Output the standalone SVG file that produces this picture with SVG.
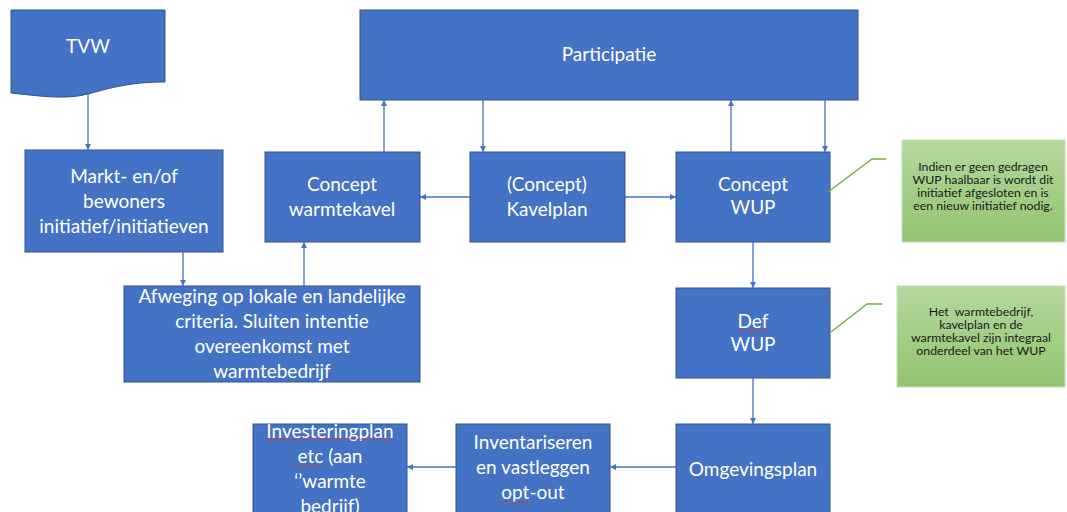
<svg xmlns="http://www.w3.org/2000/svg" width="1067" height="512" viewBox="0 0 1067 512">
<style>
.box{fill:#4472C4;stroke:#2F528F;stroke-width:1}
.t{font-family:Lato,"Open Sans",sans-serif;font-size:19px;fill:#fff;text-anchor:middle}
.g{font-family:Lato,"Open Sans",sans-serif;font-size:12.3px;fill:#1a1a1a;text-anchor:middle}
.c{stroke:#4472C4;stroke-width:1.3;fill:none;marker-end:url(#ah)}
.call{stroke:#70AD47;stroke-width:1.3;fill:none}
.sq{fill:url(#squig)}
</style>
<defs>
<marker id="ah" viewBox="0 0 10 10" refX="10" refY="5" markerWidth="6" markerHeight="6" markerUnits="userSpaceOnUse" orient="auto">
<path d="M0,0 L10,5 L0,10 z" fill="#4472C4"/>
</marker>
<linearGradient id="gg" x1="0" y1="0" x2="0" y2="1">
<stop offset="0" stop-color="#B5D89E"/>
<stop offset="1" stop-color="#92C36F"/>
</linearGradient>
<pattern id="squig" width="4" height="3" patternUnits="userSpaceOnUse">
<path d="M0,2.5 L2,0.5 L4,2.5" stroke="#E03030" stroke-width="0.9" fill="none"/>
</pattern>
</defs>

<g id="tvw">
<path class="box" d="M11,10 H165 V82 C130,82 110,88 88,94 C65,100 40,96 11,93 Z"/>
<text class="t" x="88" y="53">TVW</text>
</g>
<g id="markt">
<rect class="box" x="25" y="150" width="198" height="102"/>
<text class="t" x="124" y="183">Markt- en/of</text>
<text class="t" x="124" y="208">bewoners</text>
<text class="t" x="124" y="233">initiatief/initiatieven</text>
</g>
<g id="afweging">
<rect class="box" x="124" y="286" width="296" height="96"/>
<text class="t" x="272" y="303">Afweging op lokale en landelijke</text>
<text class="t" x="272" y="328">criteria. Sluiten intentie</text>
<text class="t" x="272" y="353">overeenkomst met</text>
<text class="t" x="272" y="378">warmtebedrijf</text>
</g>
<g id="participatie">
<rect class="box" x="360" y="10" width="498" height="90"/>
<text class="t" x="609" y="61">Participatie</text>
</g>
<g id="concept-warmtekavel">
<rect class="box" x="265" y="152" width="155" height="90"/>
<text class="t" x="342" y="191">Concept</text>
<text class="t" x="342" y="216">warmtekavel</text>
</g>
<g id="kavelplan">
<rect class="box" x="470" y="152" width="155" height="90"/>
<text class="t" x="547" y="191">(Concept)</text>
<text class="t" x="547" y="216">Kavelplan</text>
</g>
<g id="concept-wup">
<rect class="box" x="676" y="152" width="154" height="90"/>
<text class="t" x="753" y="191">Concept</text>
<text class="t" x="753" y="214">WUP</text>
</g>
<g id="def-wup">
<rect class="box" x="676" y="288" width="154" height="90"/>
<text class="t" x="753" y="328">Def</text>
<text class="t" x="753" y="351">WUP</text>
<rect class="sq" x="738" y="329" width="32" height="3"/>
</g>
<g id="omgevingsplan">
<rect class="box" x="676" y="424" width="154" height="95"/>
<text class="t" x="753" y="476">Omgevingsplan</text>
</g>
<g id="inventariseren">
<rect class="box" x="456" y="424" width="154" height="95"/>
<text class="t" x="533" y="449">Inventariseren</text>
<text class="t" x="533" y="474">en vastleggen</text>
<text class="t" x="533" y="499">opt-out</text>
<rect class="sq" x="500" y="501" width="30" height="3"/>
</g>
<g id="investeringplan">
<rect class="box" x="253" y="424" width="154" height="95"/>
<text class="t" x="330" y="438">Investeringplan</text>
<text class="t" x="330" y="463">etc (aan</text>
<text class="t" x="330" y="488">‘’warmte</text>
<text class="t" x="330" y="513">bedrijf)</text>
<rect class="sq" x="265" y="438" width="128" height="3"/>
<rect class="sq" x="293" y="464" width="30" height="3"/>
</g>
<g id="note1">
<rect x="902" y="140" width="163" height="102" fill="url(#gg)" stroke="#C5E0B4" stroke-width="1"/>
<text class="g" x="983" y="171">Indien er geen gedragen</text>
<text class="g" x="983" y="184">WUP haalbaar is wordt dit</text>
<text class="g" x="983" y="197">initiatief afgesloten en is</text>
<text class="g" x="983" y="210">een nieuw initiatief nodig.</text>
</g>
<g id="note2">
<rect x="897" y="286" width="168" height="101" fill="url(#gg)" stroke="#C5E0B4" stroke-width="1"/>
<text class="g" x="981" y="316" xml:space="preserve">Het  warmtebedrijf,</text>
<text class="g" x="981" y="329">kavelplan en de</text>
<text class="g" x="981" y="342">warmtekavel zijn integraal</text>
<text class="g" x="981" y="355">onderdeel van het WUP</text>
</g>

<g id="connectors">
<path class="c" d="M88,94 V150"/>
<path class="c" d="M183,252 V286"/>
<path class="c" d="M304,286 V242"/>
<path class="c" d="M384,152 V100"/>
<path class="c" d="M483,100 V152"/>
<path class="c" d="M470,197 H420"/>
<path class="c" d="M625,197 H676"/>
<path class="c" d="M731,152 V100"/>
<path class="c" d="M825,100 V152"/>
<path class="c" d="M753,242 V288"/>
<path class="c" d="M753,378 V424"/>
<path class="c" d="M676,467 H610"/>
<path class="c" d="M456,467 H407"/>
<path class="call" d="M828,192 L872,159 H886"/>
<path class="call" d="M831,332 L867,304 H882"/>
</g>
</svg>
